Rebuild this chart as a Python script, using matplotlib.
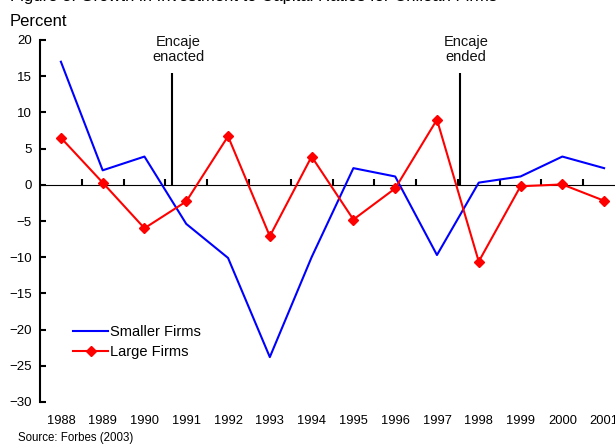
import matplotlib
matplotlib.use('Agg')
import matplotlib.pyplot as plt

plt.rcParams['font.family'] = ['Liberation Sans', 'DejaVu Sans']

# Data (percent)
years = list(range(1988, 2002))
smaller_firms = [17.0, 2.0, 3.9, -5.4, -10.1, -23.8, -10.0, 2.3, 1.15, -9.7, 0.3, 1.15, 3.9, 2.3]
large_firms = [6.5, 0.3, -6.0, -2.3, 6.7, -7.1, 3.9, -4.8, -0.5, 9.0, -10.6, -0.2, 0.05, -2.2]
event_years = [1990.67, 1997.55]
event_labels = ['Encaje\nenacted', 'Encaje\nended']
event_top = 15.5
y_ticks = list(range(-30, 25, 5))

fig = plt.figure(figsize=(6.15, 4.45), dpi=100)
ax = fig.add_axes([40 / 615, 43 / 445, 585 / 615, 362 / 445])

ax.plot(years, smaller_firms, color='#0000FF', lw=1.5, label='Smaller Firms', clip_on=False)
ax.plot(years, large_firms, color='#FF0000', lw=1.5, marker='D', markersize=5.5,
        label='Large Firms', clip_on=False)

# event markers
for x, lab in zip(event_years, event_labels):
    ax.vlines(x, 0, event_top, color='black', lw=1.5)
    ax.text(x + 0.14, 18.7, lab, ha='center', va='center', fontsize=10.5,
            linespacing=1.05, color='#111111')

ax.set_xlim(1987.5, 2001.5)
ax.set_ylim(-30, 20)
ax.set_yticks(y_ticks)
ax.set_xticks(years)
ax.set_xticklabels([str(y) for y in years], fontsize=9.3)
ax.tick_params(axis='x', length=0, pad=9)
ax.tick_params(axis='y', direction='in', length=4, width=1.5, labelsize=9.5, pad=6)

for s in ['top', 'right', 'bottom']:
    ax.spines[s].set_visible(False)
ax.spines['left'].set_linewidth(1.5)

# zero line acting as the category axis, ticks between years
zero_ax = ax.secondary_xaxis(0.6)
zero_ax.set_xticks([y + 0.5 for y in years[:-1]])
zero_ax.set_xticklabels([])
zero_ax.tick_params(direction='out', length=4, width=1.5)
zero_ax.spines['bottom'].set_linewidth(1.8)

ax.legend(loc='upper left', bbox_to_anchor=(73 / 615, 1 - 325 / 445),
          bbox_transform=fig.transFigure, frameon=False, fontsize=10.5,
          handlelength=2.4, handletextpad=0.15, borderpad=0, borderaxespad=0,
          labelspacing=0.4)

fig.text(10 / 615, 1 - 21 / 445, 'Percent', fontsize=12, va='center', ha='left')
fig.text(18 / 615, 1 - 438 / 445, 'Source: Forbes (2003)', fontsize=8.3,
         va='center', ha='left')
fig.text(10 / 615, 1 - 1 / 445,
         'Figure 3. Growth in Investment to Capital Ratios for Chilean Firms',
         fontsize=12, va='baseline', ha='left')

fig.savefig('out.png', dpi=100)
